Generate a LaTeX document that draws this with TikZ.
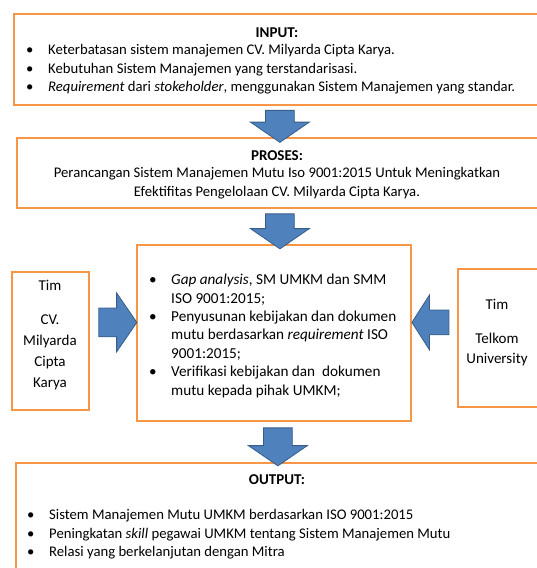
\documentclass[tikz,border=0pt]{standalone}
\usepackage{fontspec}
\setmainfont{Carlito}
\usetikzlibrary{shapes.arrows}
\definecolor{boxorange}{HTML}{F79646}
\definecolor{arrowblue}{HTML}{4F81BD}
\definecolor{arrowline}{HTML}{385D8A}
\newcommand\bul{\makebox[22pt][l]{\textbullet}}
\newcommand\nob{\hspace*{22pt}}

\begin{document}
\begin{tikzpicture}[x=1pt,y=-1pt,
  box/.style={draw=boxorange,line width=1.8pt,anchor=north west,inner sep=0pt},
  txt/.style={inner sep=0pt,anchor=base west,font=\fontsize{14.7}{18}\selectfont},
  big/.style={txt,font=\fontsize{15.2}{18}\selectfont},
  side/.style={txt,anchor=base,font=\fontsize{15}{18}\selectfont},
  head/.style={txt,anchor=base,font=\fontsize{15}{18}\selectfont\bfseries},
  blockarrow/.style={single arrow,fill=arrowblue,draw=arrowline,line width=0.8pt,inner xsep=0pt,inner ysep=14pt,
    text height=0pt,text depth=0pt,single arrow head extend=15pt,single arrow tip angle=111,minimum height=34pt}]
\useasboundingbox (0,0) rectangle (537,568);
\clip (0,0) rectangle (537,568);

\node[box,minimum width=532,minimum height=91] (input) at (13,13) {};
\node[box,minimum width=526,minimum height=70] (proses) at (16,137) {};
\node[box,minimum width=274,minimum height=176] (gap) at (136,244) {};
\node[box,minimum width=77,minimum height=138] (cv) at (11,271) {};
\node[box,minimum width=86,minimum height=138] (telkom) at (457,268) {};
\node[box,minimum width=528,minimum height=120] (output) at (15,462) {};

\node[head] (inhead) at (277,37) {INPUT:};
\foreach \t [count=\i] in {{Keterbatasan sistem manajemen CV. Milyarda Cipta Karya.},
  {Kebutuhan Sistem Manajemen yang terstandarisasi.},
  {\textit{Requirement} dari \textit{stokeholder}, menggunakan Sistem Manajemen yang standar.}}
  \node[txt] (in\i) at (26,36+18.5*\i) {\bul\t};

\node[head] (proseshead) at (277,160) {PROSES:};
\node[txt,anchor=base] (proses1) at (277,177.5) {Perancangan Sistem Manajemen Mutu Iso 9001:2015 Untuk Meningkatkan};
\node[txt,anchor=base] (proses2) at (277,196.5) {Efektifitas Pengelolaan CV. Milyarda Cipta Karya.};

\foreach \t [count=\i] in {{\bul\textit{Gap analysis}, SM UMKM dan SMM},{\nob ISO 9001:2015;},
  {\bul Penyusunan kebijakan dan dokumen},{\nob mutu berdasarkan \textit{requirement} ISO},{\nob 9001:2015;},
  {\bul Verifikasi kebijakan dan \ dokumen},{\nob mutu kepada pihak UMKM;}}
  \node[big] (gap\i) at (149,266.2+18.4*\i) {\t};

\foreach \t/\y [count=\i] in {Tim/290.5,CV./324.5,Milyarda/345.5,Cipta/366.5,Karya/387.5}
  \node[side] (cv\i) at (50,\y) {\t};
\foreach \t/\y [count=\i] in {Tim/309.5,Telkom/343.5,University/363.5}
  \node[side] (telkom\i) at (497,\y) {\t};

\node[head] (outhead) at (277,484) {OUTPUT:};
\foreach \t [count=\i] in {{Sistem Manajemen Mutu UMKM berdasarkan ISO 9001:2015},
  {Peningkatan \textit{skill} pegawai UMKM tentang Sistem Manajemen Mutu},
  {Relasi yang berkelanjutan dengan Mitra}}
  \node[txt] (out\i) at (27,501+18.5*\i) {\bul\t};

\path (input.south) -- node[blockarrow,rotate=-90,minimum height=32pt] (arrin) {} (proses.north);
\path (proses.south) -- node[blockarrow,rotate=-90,minimum height=35pt] (arrproses) {} (proses.south |- gap.north);
\path (gap.south -| output.north) -- node[blockarrow,rotate=-90,minimum height=38pt,yshift=-2pt] (arrout) {} (output.north);
\path ([yshift=18.5pt]cv.east) -- node[blockarrow,minimum height=38pt] (arrcv) {} ([yshift=10.5pt]gap.west);
\path ([yshift=15.5pt]telkom.west) -- node[blockarrow,rotate=180,minimum height=37pt,inner ysep=12pt,single arrow tip angle=115] (arrtelkom) {} ([yshift=10.5pt]gap.east);
\end{tikzpicture}
\end{document}
